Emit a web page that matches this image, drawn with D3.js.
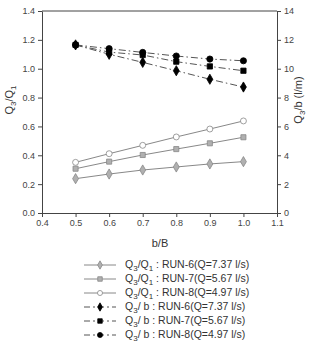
<!DOCTYPE html>
<meta charset="utf-8">
<style>
body{ margin:0; background:#fff; }
svg text{ font-family:"Liberation Sans", Arial, sans-serif; fill:#333; }
.axis path, .axis line{ stroke:#444; }
.axis text{ font-size:9px; fill:#444; }
</style>
<body>
<script src="https://cdn.jsdelivr.net/npm/d3@7"></script>
<script>
var ratioB = [0.5, 0.6, 0.7, 0.8, 0.9, 1.0];

// Q3/Q1 (left axis)
var q1Run6 = [0.238, 0.270, 0.298, 0.319, 0.340, 0.356];
var q1Run7 = [0.307, 0.356, 0.402, 0.443, 0.483, 0.525];
var q1Run8 = [0.351, 0.411, 0.469, 0.527, 0.582, 0.638];

// Q3/b (right axis, l/m)
var bRun6 = [11.65, 11.00, 10.44, 9.86, 9.27, 8.73];
var bRun7 = [11.65, 11.15, 10.95, 10.49, 10.16, 9.86];
var bRun8 = [11.65, 11.39, 11.13, 10.88, 10.67, 10.55];

var xTicks = [0.4, 0.5, 0.6, 0.7, 0.8, 0.9, 1.0, 1.1];
var yTicks = [0.0, 0.2, 0.4, 0.6, 0.8, 1.0, 1.2, 1.4];
var y2Ticks = [0, 2, 4, 6, 8, 10, 12, 14];

var legendLabels = ["RUN-6(Q=7.37 l/s)", "RUN-7(Q=5.67 l/s)", "RUN-8(Q=4.97 l/s)"];

var W = 317, H = 343;
var m = {left:42, right:40, top:11, bottom:130};

var svg = d3.select("body").append("svg").attr("width", W).attr("height", H);

var x = d3.scaleLinear().domain([0.4, 1.1]).range([m.left, W - m.right]);
var y = d3.scaleLinear().domain([0, 1.4]).range([H - m.bottom, m.top]);
var y2 = d3.scaleLinear().domain([0, 14]).range([H - m.bottom, m.top]);

// frame top line
svg.append("line").attr("x1", x(0.4)).attr("x2", x(1.1)).attr("y1", y(1.4)).attr("y2", y(1.4))
  .attr("stroke", "#444");

svg.append("g").attr("class", "axis").attr("transform", "translate(0," + y(0) + ")")
  .call(d3.axisBottom(x).tickValues(xTicks).tickFormat(d3.format(".1f")).tickSize(4).tickSizeOuter(0));
svg.append("g").attr("class", "axis").attr("transform", "translate(" + x(0.4) + ",0)")
  .call(d3.axisLeft(y).tickValues(yTicks).tickFormat(d3.format(".1f")).tickSize(4).tickSizeOuter(0));
svg.append("g").attr("class", "axis").attr("transform", "translate(" + x(1.1) + ",0)")
  .call(d3.axisRight(y2).tickValues(y2Ticks).tickSize(4).tickSizeOuter(0));

// text with subscripts: parts = [[text, isSub], ...]
function richText(t, parts, subSize){
  var down = false;
  parts.forEach(function(p){
    var ts = t.append("tspan").text(p[0]);
    if (p[1] && !down) { ts.attr("dy", 3).style("font-size", subSize); down = true; }
    else if (p[1]) { ts.style("font-size", subSize); }
    else if (down) { ts.attr("dy", -3); down = false; }
  });
}

var yl = svg.append("text").attr("transform", "translate(13,100) rotate(-90)")
  .attr("text-anchor", "middle").style("font-size", "11px");
richText(yl, [["Q"], ["3", 1], ["/Q"], ["1", 1]], "8px");

var yr = svg.append("text").attr("transform", "translate(302,100) rotate(-90)")
  .attr("text-anchor", "middle").style("font-size", "11px");
richText(yr, [["Q"], ["3", 1], ["/b  (l/m)"]], "8px");

svg.append("text").attr("x", 160).attr("y", 247).attr("text-anchor", "middle")
  .style("font-size", "11px").text("b/B");

var dashDot = "7,3,1.5,3";
var symDiamond = d3.symbol().type(d3.symbolDiamond).size(30);
var symSquare = d3.symbol().type(d3.symbolSquare).size(26);
var symCircle = d3.symbol().type(d3.symbolCircle).size(28);
var symSquareB = d3.symbol().type(d3.symbolSquare).size(28);
var symCircleB = d3.symbol().type(d3.symbolCircle).size(30);

var series = [
  {v:q1Run6, s:y, sym:symDiamond, fill:"#b0b0b0", stroke:"#888", dash:null, lc:"#888"},
  {v:q1Run7, s:y, sym:symSquare, fill:"#b0b0b0", stroke:"#888", dash:null, lc:"#888"},
  {v:q1Run8, s:y, sym:symCircle, fill:"#fff", stroke:"#888", dash:null, lc:"#888"},
  {v:bRun6, s:y2, sym:symDiamond, fill:"#000", stroke:"#000", dash:dashDot, lc:"#555"},
  {v:bRun7, s:y2, sym:symSquareB, fill:"#000", stroke:"#000", dash:dashDot, lc:"#555"},
  {v:bRun8, s:y2, sym:symCircleB, fill:"#000", stroke:"#000", dash:dashDot, lc:"#555"}
];

series.forEach(function(sr){
  var line = d3.line().x(function(d, i){ return x(ratioB[i]); }).y(function(d){ return sr.s(d); });
  svg.append("path").attr("d", line(sr.v)).attr("fill", "none")
    .attr("stroke", sr.lc).attr("stroke-width", 1).attr("stroke-dasharray", sr.dash);
  svg.append("g").selectAll("path").data(sr.v).enter().append("path")
    .attr("transform", function(d, i){ return "translate(" + x(ratioB[i]) + "," + sr.s(d) + ")"; })
    .attr("d", sr.sym).attr("fill", sr.fill).attr("stroke", sr.stroke).attr("stroke-width", 0.8);
});

// legend
var lg = svg.append("g");
series.forEach(function(sr, i){
  var ly = 265 + i * 14;
  lg.append("line").attr("x1", 84).attr("x2", 116).attr("y1", ly).attr("y2", ly)
    .attr("stroke", sr.lc).attr("stroke-dasharray", sr.dash ? "6,3,2,3" : null);
  lg.append("path").attr("transform", "translate(100," + ly + ")")
    .attr("d", d3.symbol().type(i % 3 == 0 ? d3.symbolDiamond : i % 3 == 1 ? d3.symbolSquare : d3.symbolCircle).size(20))
    .attr("fill", sr.fill).attr("stroke", sr.stroke).attr("stroke-width", 0.8);
  var t = lg.append("text").attr("x", 125).attr("y", ly + 3).style("font-size", "10.5px");
  if (i < 3) richText(t, [["Q"], ["3", 1], ["/Q"], ["1", 1], [" : " + legendLabels[i % 3]]], "8px");
  else richText(t, [["Q"], ["3", 1], ["/ b : " + legendLabels[i % 3]]], "8px");
});
</script>
</body>
